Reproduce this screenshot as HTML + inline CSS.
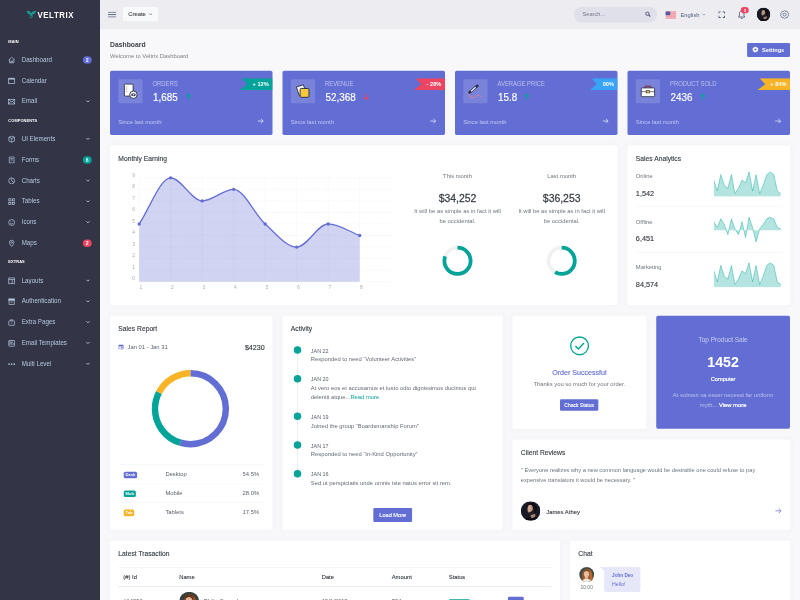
<!DOCTYPE html>
<html lang="en"><head><meta charset="utf-8"><title>Veltrix Dashboard</title>
<style>
*{box-sizing:border-box}
html,body{margin:0;padding:0;width:800px;height:600px;overflow:hidden;background:#f8f8fa}
#s{position:absolute;left:0;top:0;width:1920px;height:1440px;transform:scale(.4166667);transform-origin:0 0;font-family:"Liberation Sans",sans-serif;font-size:14px;color:#5b626b;background:#f8f8fa;overflow:hidden}
.abs{position:absolute}
.side{position:absolute;left:0;top:0;width:240px;height:1440px;background:#333547}
.logo{position:absolute;left:0;top:0;width:240px;height:70px}
.logo span{position:absolute;left:90px;top:20px;font-size:21.5px;font-weight:bold;color:#fff;letter-spacing:1.6px;line-height:30px;transform:scaleX(.875);transform-origin:0 50%}
.mt{position:absolute;left:20px;font-size:10.5px;font-weight:bold;color:#fff;letter-spacing:.2px;line-height:14px;transform:scaleX(.9);transform-origin:0 50%}
.mi{position:absolute;left:0;width:240px;height:50px;color:#b4c9de;font-size:15px;line-height:50px}
.mi .tx{position:absolute;left:52px;top:-2px;font-size:16.5px;transform:scaleX(.9);transform-origin:0 50%;white-space:nowrap}
.mi svg.ic{position:absolute;left:18.5px;top:15.5px;width:18px;height:18px;stroke:#b4c9de;fill:none;stroke-width:1.5}
.mi .ch{position:absolute;left:206px;top:19px;width:10px;height:10px}
.bdg{position:absolute;right:20px;top:16px;height:18px;min-width:21px;border-radius:9px;color:#fff;font-size:11px;font-weight:bold;line-height:18px;text-align:center}
.top{position:absolute;left:240px;top:0;width:1680px;height:70px;background:#ececf1}
.createbtn{left:55px;top:17px;width:84px;height:34px;background:#f8f9fa;border-radius:3px;font-size:14px;line-height:34px;text-align:center;color:#3b4046;-webkit-text-stroke:.2px #3b4046}
.search{left:1138px;top:16px;width:199px;height:38px;border-radius:19px;background:#e0e0ea;font-size:13.5px;line-height:38px;color:#74788d}
.search span{position:absolute;left:20px}
.card{position:absolute;background:#fff;border-radius:4px;box-shadow:0 0 13px 0 rgba(236,236,241,.44)}
.ct{position:absolute;left:20px;top:21px;font-size:17px;color:#343a40;line-height:22px;white-space:nowrap;transform:scaleX(.95);transform-origin:0 50%;-webkit-text-stroke:.3px #343a40}
.ct2{top:19.5px}
.ptitle{font-size:19px;font-weight:bold;color:#3f444b;line-height:24px;transform:scaleX(.86);transform-origin:0 50%}
.psub{font-size:14px;color:#7b8087;line-height:20px}
.setbtn{width:103px;height:34px;background:#626ed4;border-radius:3px;color:#fff;font-size:13.5px;font-weight:bold;line-height:34px;text-align:center;white-space:nowrap}
.st{background:#626ed4;color:#fff;box-shadow:none}
.sib{left:20px;top:20px;width:58px;height:58px;background:rgba(255,255,255,.15);border-radius:3px}
.slab{left:102px;top:21px;transform:scaleX(.88);transform-origin:0 50%;font-size:16px;line-height:20px;color:rgba(255,255,255,.55);white-space:nowrap}
.sval{left:103px;top:48px;transform:scaleX(.95);transform-origin:0 50%;font-size:25px;line-height:32px;color:#fff;white-space:nowrap;-webkit-text-stroke:.4px #fff}
.rtx{left:326px;top:18px;width:64px;height:28px;line-height:28px;font-size:13.5px;font-weight:bold;color:#fff;text-align:center}
.slm{left:20px;top:112px;font-size:14px;line-height:20px;color:rgba(255,255,255,.6);white-space:nowrap}
.gl{stroke:rgba(0,0,0,.12);stroke-width:1;stroke-dasharray:2 2;fill:none}
.al{font-size:12px;fill:rgba(0,0,0,.35);font-family:"Liberation Sans",sans-serif}
.mcol{top:0;width:250px;text-align:center}
.mh{position:absolute;left:0;width:250px;top:64px;font-size:14px;line-height:20px;color:#6c757d}
.mv{position:absolute;left:0;width:250px;top:110px;font-size:25px;line-height:32px;color:#3b4047;-webkit-text-stroke:.6px #3b4047}
.mp{position:absolute;left:0;width:250px;top:147px;font-size:14px;line-height:23px;color:#6c757d;white-space:nowrap}
.salab{left:20px;font-size:14px;line-height:20px;color:#6c757d;white-space:nowrap}
.saval{left:20px;font-size:17.5px;line-height:24px;color:#343a40;white-space:nowrap;-webkit-text-stroke:.3px #343a40}
.tbdg{height:16px;padding:0;border-radius:4px;color:#fff;font-size:10px;font-weight:bold;line-height:16px;text-align:center}
.adt{left:68px;font-size:13px;line-height:18px;color:#5b626b;white-space:nowrap}
.atx{left:68px;font-size:14px;line-height:20px;color:#636a72;white-space:nowrap}
.pbtn{background:#626ed4;border-radius:3px;color:#fff;text-align:center;white-space:nowrap;-webkit-text-stroke:.3px #fff}
.th{top:76px;font-size:14px;line-height:20px;color:#343a40;white-space:nowrap;-webkit-text-stroke:.25px #343a40}
.td{top:134px;font-size:14px;line-height:20px;color:#5b626b;white-space:nowrap}

</style></head><body>
<div id="s">
<div class="side">
<div class="logo"><svg class="abs" style="left:62.5px;top:25px;width:24px;height:19px" viewBox="0 0 24 19"><path d="M0 0.5 L7.5 1.8 L12 7 L16.5 1.8 L24 0.5 L19.5 8 L14.5 9.5 L12 7.5 L9.5 9.5 L4.5 8 Z" fill="#0fb5a6"/><path d="M12 7.2 Q17 10.5 15.2 15.5 Q14 19 12 19 Q10 19 8.8 15.5 Q7 10.5 12 7.2 Z" fill="#0aa396"/><ellipse cx="12" cy="14.3" rx="1.7" ry="2.4" fill="#333547"/><path d="M4 3 L9.5 8.5 M20 3 L14.5 8.5" stroke="#333547" stroke-width="1" fill="none"/></svg><span>VELTRIX</span></div>
<div class="mt" style="top:91px">MAIN</div>
<div class="mi" style="top:119px"><svg class="ic" viewBox="0 0 16 16"><path d="M1.5 8 L8 2 L14.5 8 M3.5 6.5 V14 H12.5 V6.5 M6.5 14 V10 H9.5 V14"/></svg><span class="tx">Dashboard</span><span class="bdg" style="background:#626ed4">2</span></div>
<div class="mi" style="top:169px"><svg class="ic" viewBox="0 0 16 16"><rect x="1.5" y="3.5" width="13" height="10.5"/><path d="M1.5 4.2 H14.5" stroke-width="2.4"/><path d="M4.5 1.2 V4 M8 1.2 V4 M11.5 1.2 V4"/></svg><span class="tx">Calendar</span></div>
<div class="mi" style="top:219px"><svg class="ic" viewBox="0 0 16 16"><rect x="1.5" y="3" width="13" height="10"/><path d="M1.5 3 L8 8.5 L14.5 3 M1.5 13 L6 7.5 M14.5 13 L10 7.5"/></svg><span class="tx">Email</span><svg class="ch" viewBox="0 0 8 8"><path d="M1 2.5 L4 5.5 L7 2.5" fill="none" stroke="#b4c9de" stroke-width="1.7"/></svg></div>
<div class="mt" style="top:281px">COMPONENTS</div>
<div class="mi" style="top:309px"><svg class="ic" viewBox="0 0 16 16"><path d="M8 1.5 L14 4 V12 L8 14.5 L2 12 V4 Z M2 4 L8 6.5 L14 4 M8 6.5 V14.5"/></svg><span class="tx">UI Elements</span><svg class="ch" viewBox="0 0 8 8"><path d="M1 2.5 L4 5.5 L7 2.5" fill="none" stroke="#b4c9de" stroke-width="1.7"/></svg></div>
<div class="mi" style="top:359px"><svg class="ic" viewBox="0 0 16 16"><path d="M3 1.5 H13 V14.5 L11.3 13.3 L9.7 14.5 L8 13.3 L6.3 14.5 L4.7 13.3 L3 14.5 Z M5.5 5 H10.5 M5.5 8 H10.5"/></svg><span class="tx">Forms</span><span class="bdg" style="background:#02a499">6</span></div>
<div class="mi" style="top:409px"><svg class="ic" viewBox="0 0 16 16"><circle cx="8" cy="8" r="6.3"/><path d="M8 1.7 V8 L13 11.5"/></svg><span class="tx">Charts</span><svg class="ch" viewBox="0 0 8 8"><path d="M1 2.5 L4 5.5 L7 2.5" fill="none" stroke="#b4c9de" stroke-width="1.7"/></svg></div>
<div class="mi" style="top:459px"><svg class="ic" viewBox="0 0 16 16"><rect x="1.8" y="1.8" width="4.6" height="4.6"/><rect x="9.6" y="1.8" width="4.6" height="4.6"/><rect x="1.8" y="9.6" width="4.6" height="4.6"/><rect x="9.6" y="9.6" width="4.6" height="4.6"/></svg><span class="tx">Tables</span><svg class="ch" viewBox="0 0 8 8"><path d="M1 2.5 L4 5.5 L7 2.5" fill="none" stroke="#b4c9de" stroke-width="1.7"/></svg></div>
<div class="mi" style="top:509px"><svg class="ic" viewBox="0 0 16 16"><circle cx="8" cy="8" r="6.3"/><path d="M4.8 9.5 Q8 13 11.2 9.5 M5.8 6 V7 M10.2 6 V7"/></svg><span class="tx">Icons</span><svg class="ch" viewBox="0 0 8 8"><path d="M1 2.5 L4 5.5 L7 2.5" fill="none" stroke="#b4c9de" stroke-width="1.7"/></svg></div>
<div class="mi" style="top:559px"><svg class="ic" viewBox="0 0 16 16"><path d="M8 14.8 C8 14.8 3.2 9.5 3.2 6 A4.8 4.8 0 0 1 12.8 6 C12.8 9.5 8 14.8 8 14.8 Z"/><circle cx="8" cy="6" r="1.7"/></svg><span class="tx">Maps</span><span class="bdg" style="background:#ec4561">2</span></div>
<div class="mt" style="top:620px">EXTRAS</div>
<div class="mi" style="top:649px"><svg class="ic" viewBox="0 0 16 16"><rect x="1.8" y="1.8" width="12.4" height="12.4"/><path d="M1.8 5.2 H14.2 M9.2 5.2 V14.2"/></svg><span class="tx">Layouts</span><svg class="ch" viewBox="0 0 8 8"><path d="M1 2.5 L4 5.5 L7 2.5" fill="none" stroke="#b4c9de" stroke-width="1.7"/></svg></div>
<div class="mi" style="top:699px"><svg class="ic" viewBox="0 0 16 16"><rect x="1.8" y="2" width="12.4" height="4"/><path d="M2.6 6 V14 H13.4 V6 M6 9 H10"/><rect x="2" y="2.2" width="12" height="2.4" fill="#b4c9de" stroke="none"/></svg><span class="tx">Authentication</span><svg class="ch" viewBox="0 0 8 8"><path d="M1 2.5 L4 5.5 L7 2.5" fill="none" stroke="#b4c9de" stroke-width="1.7"/></svg></div>
<div class="mi" style="top:749px"><svg class="ic" viewBox="0 0 16 16"><rect x="1.8" y="4.5" width="12.4" height="9.5" rx="1"/><path d="M5.5 4.5 V2.2 H10.5 V4.5 M8 8 V10.5"/></svg><span class="tx">Extra Pages</span><svg class="ch" viewBox="0 0 8 8"><path d="M1 2.5 L4 5.5 L7 2.5" fill="none" stroke="#b4c9de" stroke-width="1.7"/></svg></div>
<div class="mi" style="top:799px"><svg class="ic" viewBox="0 0 16 16"><rect x="1.8" y="1.8" width="12.4" height="12.4" rx="1"/><path d="M4.5 1.8 V7 H9 V1.8 M1.8 9.5 H14.2" /></svg><span class="tx">Email Templates</span><svg class="ch" viewBox="0 0 8 8"><path d="M1 2.5 L4 5.5 L7 2.5" fill="none" stroke="#b4c9de" stroke-width="1.7"/></svg></div>
<div class="mi" style="top:849px"><svg class="ic" viewBox="0 0 16 16"><circle cx="2.5" cy="8" r="1.75" fill="#b4c9de" stroke="none"/><circle cx="8" cy="8" r="1.75" fill="#b4c9de" stroke="none"/><circle cx="13.5" cy="8" r="1.75" fill="#b4c9de" stroke="none"/></svg><span class="tx">Multi Level</span><svg class="ch" viewBox="0 0 8 8"><path d="M1 2.5 L4 5.5 L7 2.5" fill="none" stroke="#b4c9de" stroke-width="1.7"/></svg></div>
</div>
<div class="top">
 <svg class="abs" style="left:19px;top:28px;width:20px;height:14px" viewBox="0 0 20 14"><path d="M0 1.2 H20 M0 7 H20 M0 12.8 H20" stroke="#525f80" stroke-width="2.2" fill="none"/></svg>
 <div class="abs createbtn">Create <svg width="9" height="6" viewBox="0 0 9 6" style="margin-left:3px;vertical-align:2px"><path d="M1 1.2 L4.5 4.8 L8 1.2" fill="none" stroke="#5b626b" stroke-width="1.9"/></svg></div>
 <div class="abs search"><span>Search...</span><svg class="abs" style="right:15px;top:11px;width:14px;height:14px" viewBox="0 0 14 14"><circle cx="5.8" cy="5.8" r="4" fill="none" stroke="#454f6b" stroke-width="2.2"/><path d="M9 9 L12.8 12.8" stroke="#454f6b" stroke-width="2.6"/></svg></div>
 <svg class="abs" style="left:1357px;top:27px;width:26px;height:18px" viewBox="0 0 27 18"><rect width="27" height="18" fill="#f6e4e6"/><g fill="#ec6f80"><rect width="27" height="2.6" y="0"/><rect width="27" height="2.6" y="5.1"/><rect width="27" height="2.6" y="10.3"/><rect width="27" height="2.6" y="15.4"/></g><rect width="12" height="9.5" fill="#52579d"/></svg>
 <div class="abs" style="left:1393px;top:25px;font-size:14px;line-height:20px;color:#525f80">English <svg width="8" height="6" viewBox="0 0 8 6" style="margin-left:2px;vertical-align:2px"><path d="M1 1.5 L4 4.5 L7 1.5" fill="none" stroke="#525f80" stroke-width="1.3"/></svg></div>
 <svg class="abs" style="left:1484px;top:27px;width:16px;height:16px" viewBox="0 0 16 16"><path d="M1.2 5.5 V1.2 H5.5 M10.5 1.2 H14.8 V5.5 M14.8 10.5 V14.8 H10.5 M5.5 14.8 H1.2 V10.5" fill="none" stroke="#525f80" stroke-width="2.4" stroke-linejoin="round"/></svg>
 <svg class="abs" style="left:1530px;top:24px;width:20px;height:22px" viewBox="0 0 20 22"><path d="M10 2.5 C6 2.5 4.5 5.5 4.5 9 V14 L2.5 17 H17.5 L15.5 14 V9 C15.5 5.5 14 2.5 10 2.5 Z" fill="none" stroke="#525f80" stroke-width="2.2"/><path d="M8 19 A2 2 0 0 0 12 19" fill="none" stroke="#525f80" stroke-width="2"/></svg>
 <div class="abs" style="left:1538px;top:17px;width:19px;height:15px;border-radius:8px;background:#ec4561;color:#fff;font-size:10px;font-weight:bold;text-align:center;line-height:15px">3</div>
 <svg class="abs" style="left:1576px;top:18px;width:33px;height:33px" viewBox="0 0 36 36"><defs><clipPath id="av0"><circle cx="18" cy="18" r="18"/></clipPath></defs><g clip-path="url(#av0)"><rect width="36" height="36" fill="#191a28"/><path d="M12 12 Q12 3 20 3 Q30 4 30 14 L28 23 L21 23 L21 9 Z" fill="#0e0e15"/><ellipse cx="17.5" cy="14.5" rx="5" ry="8" fill="#b8917e"/><path d="M14 19.5 Q17.5 22 21.5 16.5 L24.5 14.5 L25.5 21.5 Q22.5 27 17.5 25.5 Z" fill="#2a1f20"/><path d="M17.5 25.5 L27 23 L26.5 29.5 L20 33 Z" fill="#a27c6a"/><path d="M3 36 Q8 28 19 32 L26.5 29 Q33 30 35.5 36 Z" fill="#0b0b11"/></g></svg>
 <svg class="abs" style="left:1632px;top:24px;width:22px;height:22px" viewBox="0 0 22 22"><path d="M11 1.2 L13.6 3.4 L17 3 L18 6.2 L20.8 8.2 L19.4 11 L20.8 13.8 L18 15.8 L17 19 L13.6 18.6 L11 20.8 L8.4 18.6 L5 19 L4 15.8 L1.2 13.8 L2.6 11 L1.2 8.2 L4 6.2 L5 3 L8.4 3.4 Z" fill="none" stroke="#525f80" stroke-width="1.7" stroke-linejoin="round"/><circle cx="11" cy="11" r="3.6" fill="none" stroke="#525f80" stroke-width="1.7"/></svg>
</div>
<div class="abs ptitle" style="left:264px;top:94px">Dashboard</div>
<div class="abs psub" style="left:264px;top:123.5px">Welcome to Veltrix Dashboard</div>
<div class="abs setbtn" style="left:1793px;top:103px"><svg width="16" height="16" viewBox="0 0 16 16" style="vertical-align:-3px;margin-right:8px;margin-left:-2px"><path d="M8 0.5 L9.6 2.4 L12 1.6 L12.6 4 L15 4.8 L14 7 L15.5 9 L13.3 10.2 L13.5 12.7 L11 12.8 L9.8 15 L8 13.6 L5.6 15 L4.8 12.7 L2.3 12.6 L2.6 10.1 L0.5 8.8 L2 6.8 L1.1 4.5 L3.5 3.9 L4.2 1.5 L6.5 2.3 Z" fill="#fff"/><circle cx="8" cy="7.8" r="2.6" fill="#626ed4"/></svg>Settings</div>
<div class="card st" style="left:264px;top:170px;width:390px;height:154px">
 <div class="abs sib"><svg class="abs" style="left:12px;top:10px;width:36px;height:38px" viewBox="0 0 32 34"><rect x="2" y="1.5" width="19" height="26" rx="2.5" fill="#fff" stroke="#2a2f45" stroke-width="2"/><path d="M6 7 H8 M6 12 H8 M6 17 H8" stroke="#ec6a78" stroke-width="2"/><circle cx="21.5" cy="24.5" r="8" fill="#fff" stroke="#2a2f45" stroke-width="2"/><ellipse cx="21.5" cy="24.5" rx="5" ry="3.4" fill="#3a3f55"/><circle cx="21.5" cy="24.5" r="1.5" fill="#fff"/></svg></div>
 <div class="abs slab">ORDERS</div>
 <div class="abs sval">1,685</div><svg class="abs" style="left:181px;top:54px;width:15px;height:17px" viewBox="0 0 15 17"><path d="M7.5 16 V2 M1.5 8 L7.5 2 L13.5 8" fill="none" stroke="#02a499" stroke-width="2.5"/></svg>
 <svg class="abs" style="left:311px;top:18px;width:79px;height:28px" viewBox="0 0 79 28"><path d="M4.7 0 H79 V28 H0 L19.0 14 Z" fill="#02a499"/></svg>
 <div class="abs rtx" style="left:338px;width:47px">+ 12%</div>
 <div class="abs slm">Since last month</div>
 <svg class="abs" style="left:354px;top:114px;width:15px;height:13px" viewBox="0 0 15 13"><path d="M0.5 6.5 H13.5 M8 1 L13.5 6.5 L8 12" fill="none" stroke="rgba(255,255,255,.7)" stroke-width="2.2"/></svg>
</div>
<div class="card st" style="left:678px;top:170px;width:390px;height:154px">
 <div class="abs sib"><svg class="abs" style="left:10px;top:10px;width:38px;height:38px" viewBox="0 0 34 34"><path d="M3 8 L18 3 L24 21 L9 26 Z" fill="#fff" stroke="#2a2f45" stroke-width="2" stroke-linejoin="round"/><rect x="11" y="11" width="19" height="19" rx="2" fill="#f5c93a" stroke="#2a2f45" stroke-width="2"/></svg></div>
 <div class="abs slab">REVENUE</div>
 <div class="abs sval">52,368</div><svg class="abs" style="left:193px;top:54px;width:15px;height:17px" viewBox="0 0 15 17"><path d="M7.5 1 V15 M1.5 9 L7.5 15 L13.5 9" fill="none" stroke="#ec4561" stroke-width="2.5"/></svg>
 <svg class="abs" style="left:315px;top:18px;width:75px;height:28px" viewBox="0 0 75 28"><path d="M4.5 0 H75 V28 H0 L18.0 14 Z" fill="#ec4561"/></svg>
 <div class="abs rtx" style="left:342px;width:43px">- 28%</div>
 <div class="abs slm">Since last month</div>
 <svg class="abs" style="left:354px;top:114px;width:15px;height:13px" viewBox="0 0 15 13"><path d="M0.5 6.5 H13.5 M8 1 L13.5 6.5 L8 12" fill="none" stroke="rgba(255,255,255,.7)" stroke-width="2.2"/></svg>
</div>
<div class="card st" style="left:1092px;top:170px;width:390px;height:154px">
 <div class="abs sib"><svg class="abs" style="left:0;top:0;width:58px;height:58px" viewBox="0 0 58 58"><path d="M13 35.5 Q13 44 21.5 44.5 Q28 44.5 31 40 Q35 36.5 39 39 Q42 41 44 43.5" fill="none" stroke="#e27f93" stroke-width="2.2" stroke-linecap="round"/><path d="M14.8 32 L33.8 15.8" stroke="#2a2f45" stroke-width="6" stroke-linecap="round"/><path d="M18.5 28.8 L29.5 19.4" stroke="#f4f4f6" stroke-width="3.2" stroke-linecap="butt"/></svg></div>
 <div class="abs slab">AVERAGE PRICE</div>
 <div class="abs sval">15.8</div><svg class="abs" style="left:165px;top:54px;width:15px;height:17px" viewBox="0 0 15 17"><path d="M7.5 16 V2 M1.5 8 L7.5 2 L13.5 8" fill="none" stroke="#02a499" stroke-width="2.5"/></svg>
 <svg class="abs" style="left:324px;top:18px;width:66px;height:28px" viewBox="0 0 66 28"><path d="M4.0 0 H66 V28 H0 L15.8 14 Z" fill="#38a4f8"/></svg>
 <div class="abs rtx" style="left:351px;width:34px">00%</div>
 <div class="abs slm">Since last month</div>
 <svg class="abs" style="left:354px;top:114px;width:15px;height:13px" viewBox="0 0 15 13"><path d="M0.5 6.5 H13.5 M8 1 L13.5 6.5 L8 12" fill="none" stroke="rgba(255,255,255,.7)" stroke-width="2.2"/></svg>
</div>
<div class="card st" style="left:1506px;top:170px;width:390px;height:154px">
 <div class="abs sib"><svg class="abs" style="left:10px;top:13px;width:38px;height:32px" viewBox="0 0 38 32"><path d="M13 8 V3.5 H25 V8" fill="none" stroke="#8f3b40" stroke-width="3.2"/><rect x="3" y="8" width="32" height="21" rx="2" fill="#fff" stroke="#2a2f45" stroke-width="2"/><path d="M3 17 H35" stroke="#2a2f45" stroke-width="1.6"/><rect x="15" y="14" width="8" height="6" fill="#f5c93a" stroke="#2a2f45" stroke-width="1.5"/></svg></div>
 <div class="abs slab">PRODUCT SOLD</div>
 <div class="abs sval">2436</div><svg class="abs" style="left:173px;top:54px;width:15px;height:17px" viewBox="0 0 15 17"><path d="M7.5 16 V2 M1.5 8 L7.5 2 L13.5 8" fill="none" stroke="#02a499" stroke-width="2.5"/></svg>
 <svg class="abs" style="left:312px;top:18px;width:78px;height:28px" viewBox="0 0 78 28"><path d="M4.7 0 H78 V28 H0 L18.7 14 Z" fill="#f8b425"/></svg>
 <div class="abs rtx" style="left:339px;width:46px">+ 84%</div>
 <div class="abs slm">Since last month</div>
 <svg class="abs" style="left:354px;top:114px;width:15px;height:13px" viewBox="0 0 15 13"><path d="M0.5 6.5 H13.5 M8 1 L13.5 6.5 L8 12" fill="none" stroke="rgba(255,255,255,.7)" stroke-width="2.2"/></svg>
</div>
<div class="card" style="left:264px;top:349px;width:1218px;height:383px">
 <div class="ct">Monthly Earning</div>
 <svg class="abs" style="left:0;top:0;width:720px;height:383px" viewBox="0 0 720 383"><path d="M70 327.0 H674.8" class="gl"/><text x="60" y="324.0" text-anchor="end" class="al">0</text><path d="M70 299.3 H674.8" class="gl"/><text x="60" y="296.3" text-anchor="end" class="al">1</text><path d="M70 271.6 H674.8" class="gl"/><text x="60" y="268.6" text-anchor="end" class="al">2</text><path d="M70 243.9 H674.8" class="gl"/><text x="60" y="240.9" text-anchor="end" class="al">3</text><path d="M70 216.2 H674.8" class="gl"/><text x="60" y="213.2" text-anchor="end" class="al">4</text><path d="M70 188.5 H674.8" class="gl"/><text x="60" y="185.5" text-anchor="end" class="al">5</text><path d="M70 160.8 H674.8" class="gl"/><text x="60" y="157.8" text-anchor="end" class="al">6</text><path d="M70 133.1 H674.8" class="gl"/><text x="60" y="130.1" text-anchor="end" class="al">7</text><path d="M70 105.4 H674.8" class="gl"/><text x="60" y="102.4" text-anchor="end" class="al">8</text><path d="M70 77.7 H674.8" class="gl"/><text x="60" y="74.7" text-anchor="end" class="al">9</text><path d="M70.0 77.7 V327" class="gl"/><text x="71.0" y="344" class="al">1</text><path d="M145.6 77.7 V327" class="gl"/><text x="146.6" y="344" class="al">2</text><path d="M221.2 77.7 V327" class="gl"/><text x="222.2" y="344" class="al">3</text><path d="M296.8 77.7 V327" class="gl"/><text x="297.8" y="344" class="al">4</text><path d="M372.4 77.7 V327" class="gl"/><text x="373.4" y="344" class="al">5</text><path d="M448.0 77.7 V327" class="gl"/><text x="449.0" y="344" class="al">6</text><path d="M523.6 77.7 V327" class="gl"/><text x="524.6" y="344" class="al">7</text><path d="M599.2 77.7 V327" class="gl"/><text x="600.2" y="344" class="al">8</text><path d="M70.0 188.5 C95.2 151.6 120.4 77.7 145.6 77.7 C170.8 77.7 196.0 133.1 221.2 133.1 C246.4 133.1 271.6 105.4 296.8 105.4 C322.0 105.4 347.2 166.3 372.4 188.5 C397.6 210.7 422.8 243.9 448.0 243.9 C473.2 243.9 498.4 188.5 523.6 188.5 C548.8 188.5 574.0 207.0 599.2 216.2 L599.2 327 L70.0 327 Z" fill="#626ed4" fill-opacity=".3"/><path d="M70.0 188.5 C95.2 151.6 120.4 77.7 145.6 77.7 C170.8 77.7 196.0 133.1 221.2 133.1 C246.4 133.1 271.6 105.4 296.8 105.4 C322.0 105.4 347.2 166.3 372.4 188.5 C397.6 210.7 422.8 243.9 448.0 243.9 C473.2 243.9 498.4 188.5 523.6 188.5 C548.8 188.5 574.0 207.0 599.2 216.2" fill="none" stroke="#626ed4" stroke-width="3"/><circle cx="70.0" cy="188.5" r="4" fill="#626ed4"/><circle cx="145.6" cy="77.7" r="4" fill="#626ed4"/><circle cx="221.2" cy="133.1" r="4" fill="#626ed4"/><circle cx="296.8" cy="105.4" r="4" fill="#626ed4"/><circle cx="372.4" cy="188.5" r="4" fill="#626ed4"/><circle cx="448.0" cy="243.9" r="4" fill="#626ed4"/><circle cx="523.6" cy="188.5" r="4" fill="#626ed4"/><circle cx="599.2" cy="216.2" r="4" fill="#626ed4"/></svg>
 <div class="abs mcol" style="left:709px"><div class="mh">This month</div><div class="mv">$34,252</div><div class="mp">It will be as simple as in fact it will<br>be occidental.</div></div>
 <div class="abs mcol" style="left:959px"><div class="mh">Last month</div><div class="mv">$36,253</div><div class="mp">It will be as simple as in fact it will<br>be occidental.</div></div>
 <svg class="abs" style="left:794px;top:237px;width:80px;height:80px" viewBox="0 0 80 80"><circle cx="40" cy="40" r="31.5" fill="none" stroke="#f1f1f1" stroke-width="9"/><circle cx="40" cy="40" r="31.5" fill="none" stroke="#02a499" stroke-width="9" stroke-dasharray="158.3 197.9" transform="rotate(-90 40 40)"/></svg><svg class="abs" style="left:1044px;top:237px;width:80px;height:80px" viewBox="0 0 80 80"><circle cx="40" cy="40" r="31.5" fill="none" stroke="#f1f1f1" stroke-width="9"/><circle cx="40" cy="40" r="31.5" fill="none" stroke="#02a499" stroke-width="9" stroke-dasharray="114.8 197.9" transform="rotate(-90 40 40)"/></svg>
</div>
<div class="card" style="left:1506px;top:349px;width:390px;height:383px">
<div class="ct">Sales Analytics</div>
<div class="abs salab" style="top:64px">Online</div><div class="abs saval" style="top:103px">1,542</div>
<svg class="abs" style="left:207px;top:63px;width:161px;height:60px" viewBox="0 0 161 60"><polygon points="0,59.5 0.0,20.2 8.5,46.4 16.9,7.1 25.4,33.3 33.9,39.8 42.4,7.1 50.8,52.9 59.3,39.8 67.8,20.2 76.3,26.7 84.7,0.5 93.2,46.4 101.7,7.1 110.2,52.9 118.6,33.3 127.1,7.1 135.6,0.5 144.1,7.1 152.5,46.4 161.0,52.9 161,59.5" fill="rgba(2,164,153,.3)"/><polyline points="0.0,20.2 8.5,46.4 16.9,7.1 25.4,33.3 33.9,39.8 42.4,7.1 50.8,52.9 59.3,39.8 67.8,20.2 76.3,26.7 84.7,0.5 93.2,46.4 101.7,7.1 110.2,52.9 118.6,33.3 127.1,7.1 135.6,0.5 144.1,7.1 152.5,46.4 161.0,52.9" fill="none" stroke="#02a499" stroke-width="1" stroke-linecap="square"/></svg>
<div class="abs" style="left:20px;top:147px;width:350px;height:1px;background:#eaedf1"></div>
<div class="abs salab" style="top:173px">Offline</div><div class="abs saval" style="top:212px">6,451</div>
<svg class="abs" style="left:207px;top:172px;width:161px;height:60px" viewBox="0 0 161 60"><polygon points="0,31.7 0.0,10.9 8.5,24.8 16.9,4.0 25.4,17.9 33.9,42.1 42.4,4.0 50.8,28.3 59.3,42.1 67.8,10.9 76.3,49.1 84.7,0.5 93.2,24.8 101.7,59.5 110.2,28.3 118.6,17.9 127.1,4.0 135.6,0.5 144.1,4.0 152.5,24.8 161.0,28.3 161,31.7" fill="rgba(2,164,153,.3)"/><polyline points="0.0,10.9 8.5,24.8 16.9,4.0 25.4,17.9 33.9,42.1 42.4,4.0 50.8,28.3 59.3,42.1 67.8,10.9 76.3,49.1 84.7,0.5 93.2,24.8 101.7,59.5 110.2,28.3 118.6,17.9 127.1,4.0 135.6,0.5 144.1,4.0 152.5,24.8 161.0,28.3" fill="none" stroke="#02a499" stroke-width="1" stroke-linecap="square"/></svg>
<div class="abs" style="left:20px;top:256px;width:350px;height:1px;background:#eaedf1"></div>
<div class="abs salab" style="top:282px">Marketing</div><div class="abs saval" style="top:321px">84,574</div>
<svg class="abs" style="left:207px;top:281px;width:161px;height:60px" viewBox="0 0 161 60"><polygon points="0,59.5 0.0,20.2 8.5,46.4 16.9,7.1 25.4,33.3 33.9,39.8 42.4,7.1 50.8,52.9 59.3,39.8 67.8,20.2 76.3,26.7 84.7,0.5 93.2,46.4 101.7,7.1 110.2,52.9 118.6,33.3 127.1,7.1 135.6,0.5 144.1,7.1 152.5,46.4 161.0,52.9 161,59.5" fill="rgba(2,164,153,.3)"/><polyline points="0.0,20.2 8.5,46.4 16.9,7.1 25.4,33.3 33.9,39.8 42.4,7.1 50.8,52.9 59.3,39.8 67.8,20.2 76.3,26.7 84.7,0.5 93.2,46.4 101.7,7.1 110.2,52.9 118.6,33.3 127.1,7.1 135.6,0.5 144.1,7.1 152.5,46.4 161.0,52.9" fill="none" stroke="#02a499" stroke-width="1" stroke-linecap="square"/></svg>
</div>
<div class="card" style="left:264px;top:758px;width:390px;height:513px">
 <div class="ct ct2">Sales Report</div>
 <svg class="abs" style="left:20px;top:68px;width:13px;height:13px" viewBox="0 0 13 13"><rect x="1" y="2" width="11" height="10" rx="1" fill="none" stroke="#626ed4" stroke-width="1.8"/><rect x="1" y="2" width="11" height="3.5" fill="#626ed4"/><rect x="6.5" y="7" width="3.5" height="3" fill="#626ed4"/></svg>
 <div class="abs" style="left:42px;top:64px;font-size:14px;line-height:20px;color:#5b626b;white-space:nowrap">Jan 01 - Jan 31</div>
 <div class="abs" style="right:19px;top:64.5px;font-size:17px;line-height:22px;color:#343a40;-webkit-text-stroke:.35px #343a40;white-space:nowrap">$4230</div>
 <svg class="abs" style="left:0;top:100px;width:390px;height:250px" viewBox="0 0 390 250"><circle cx="193" cy="123" r="85" fill="none" stroke="#626ed4" stroke-width="15.5" stroke-dasharray="291.07 534.07" stroke-dashoffset="-0.00" transform="rotate(-90 193 123)"/><circle cx="193" cy="123" r="85" fill="none" stroke="#02a499" stroke-width="15.5" stroke-dasharray="149.54 534.07" stroke-dashoffset="-291.07" transform="rotate(-90 193 123)"/><circle cx="193" cy="123" r="85" fill="none" stroke="#f8b425" stroke-width="15.5" stroke-dasharray="93.46 534.07" stroke-dashoffset="-440.61" transform="rotate(-90 193 123)"/></svg>
<div class="abs" style="left:20px;top:357.0px;width:350px;height:1px;background:#eaedf1"></div><div class="abs tbdg" style="left:33px;top:373.5px;width:32px;background:#626ed4">Desk</div><div class="abs" style="left:133px;top:370.0px;font-size:14px;line-height:20px;white-space:nowrap">Desktop</div><div class="abs" style="right:32px;top:370.0px;font-size:14px;line-height:20px;white-space:nowrap">54.5%</div><div class="abs" style="left:20px;top:402.5px;width:350px;height:1px;background:#eaedf1"></div><div class="abs tbdg" style="left:33px;top:419.0px;width:29px;background:#02a499">Mob</div><div class="abs" style="left:133px;top:415.5px;font-size:14px;line-height:20px;white-space:nowrap">Mobile</div><div class="abs" style="right:32px;top:415.5px;font-size:14px;line-height:20px;white-space:nowrap">28.0%</div><div class="abs" style="left:20px;top:448.0px;width:350px;height:1px;background:#eaedf1"></div><div class="abs tbdg" style="left:33px;top:464.5px;width:25px;background:#f8b425">Tab</div><div class="abs" style="left:133px;top:461.0px;font-size:14px;line-height:20px;white-space:nowrap">Tablets</div><div class="abs" style="right:32px;top:461.0px;font-size:14px;line-height:20px;white-space:nowrap">17.5%</div></div>
<div class="card" style="left:678px;top:758px;width:528px;height:513px">
<div class="ct ct2">Activity</div>
<div class="abs" style="left:35px;top:82px;width:2px;height:297px;background:#e9ebf5"></div>
<div class="abs" style="left:27px;top:73px;width:18px;height:18px;border-radius:9px;background:#02a499"></div>
<div class="abs adt" style="top:74.5px">JAN 22</div>
<div class="abs atx" style="top:94.0px">Responded to need “Volunteer Activities”</div>
<div class="abs" style="left:27px;top:142px;width:18px;height:18px;border-radius:9px;background:#02a499"></div>
<div class="abs adt" style="top:143.5px">JAN 20</div>
<div class="abs atx" style="top:163.0px">At vero eos et accusamus et iusto odio dignissimos ducimus qui</div>
<div class="abs atx" style="top:184.5px">deleniti atque...<span style="color:#02a499">Read more</span></div>
<div class="abs" style="left:27px;top:232px;width:18px;height:18px;border-radius:9px;background:#02a499"></div>
<div class="abs adt" style="top:233.5px">JAN 19</div>
<div class="abs atx" style="top:253.0px">Joined the group “Boardsmanship Forum”</div>
<div class="abs" style="left:27px;top:301px;width:18px;height:18px;border-radius:9px;background:#02a499"></div>
<div class="abs adt" style="top:302.5px">JAN 17</div>
<div class="abs atx" style="top:322.0px">Responded to need “In-Kind Opportunity”</div>
<div class="abs" style="left:27px;top:370px;width:18px;height:18px;border-radius:9px;background:#02a499"></div>
<div class="abs adt" style="top:371.5px">JAN 16</div>
<div class="abs atx" style="top:391.0px">Sed ut perspiciatis unde omnis iste natus error sit rem.</div>
<div class="abs pbtn" style="left:218px;top:461px;width:93px;height:34px;line-height:34px;font-size:13.5px">Load More</div>
</div>
<div class="card" style="left:1230px;top:758px;width:321px;height:271px">
 <svg class="abs" style="left:137px;top:48px;width:48px;height:48px" viewBox="0 0 48 48"><circle cx="24" cy="24" r="21.3" fill="none" stroke="#02a499" stroke-width="3.2"/><path d="M14 24.5 L21 31.5 L34.5 17" fill="none" stroke="#02a499" stroke-width="3.6"/></svg>
 <div class="abs" style="left:0;width:321px;top:124px;text-align:center;font-size:17px;line-height:24px;color:#626ed4;white-space:nowrap;-webkit-text-stroke:.3px #626ed4">Order Successful</div>
 <div class="abs" style="left:0;width:321px;top:154px;text-align:center;font-size:14px;line-height:20px;color:#6c757d;white-space:nowrap">Thanks you so much for your order.</div>
 <div class="abs pbtn" style="left:114px;top:200px;width:92px;height:28px;line-height:28px;font-size:12px">Chack Status</div>
</div>
<div class="card" style="left:1575px;top:758px;width:321px;height:271px;background:#626ed4;box-shadow:none;color:#fff;text-align:center">
 <div class="abs" style="left:0;width:321px;top:46px;font-size:15.5px;line-height:22px;color:rgba(255,255,255,.65);white-space:nowrap">Top Product Sale</div>
 <div class="abs" style="left:0;width:321px;top:88px;font-size:34px;line-height:44px;font-weight:bold;white-space:nowrap">1452</div>
 <div class="abs" style="left:0;width:321px;top:142px;font-size:13.5px;line-height:20px;-webkit-text-stroke:.5px #fff;white-space:nowrap">Computer</div>
 <div class="abs" style="left:0;width:321px;top:179px;font-size:14px;line-height:23px;color:rgba(255,255,255,.55);white-space:nowrap">At solmen va esser necessi far uniform<br>myth... <span style="color:#fff;-webkit-text-stroke:.5px #fff">View more</span></div>
</div>
<div class="card" style="left:1230px;top:1055px;width:666px;height:216px">
 <div class="ct ct2">Client Reviews</div>
 <div class="abs" style="left:20px;top:61.3px;font-size:13.6px;line-height:23.4px;color:#6c757d;white-space:nowrap">" Everyone realizes why a new common language would be desirable one could refuse to pay<br>expensive translators it would be necessary. "</div>
 <svg class="abs" style="left:20px;top:148px;width:47px;height:47px" viewBox="0 0 50 50"><defs><clipPath id="av1"><circle cx="25" cy="25" r="25"/></clipPath></defs><g clip-path="url(#av1)"><rect width="50" height="50" fill="#191a28"/><path d="M16.5 16 Q17 4 28 4 Q41 5 41 19 L38 31 L29 31 L29 12 Z" fill="#0e0e15"/><ellipse cx="23.8" cy="20" rx="6.8" ry="11.2" fill="#c39a86"/><ellipse cx="21.5" cy="19" rx="3.2" ry="6" fill="#d3ab98"/><path d="M19.5 27 Q24 30 29.5 23 L33.5 20 L35 30 Q31 37.5 24 35.5 Z" fill="#2a1f20"/><path d="M24.5 35.5 L37 32 L36.5 41 L28 45.5 Z" fill="#a9826f"/><path d="M4 50 Q11 39 26 44 L36.5 40 Q46 42 49 50 Z" fill="#0b0b11"/></g></svg>
 <div class="abs" style="left:81px;top:162.5px;font-size:15px;line-height:20px;color:#343a40;white-space:nowrap;transform:scaleX(.94);transform-origin:0 50%;-webkit-text-stroke:.25px #343a40">James Athey</div>
 <svg class="abs" style="left:630px;top:164px;width:16px;height:14px" viewBox="0 0 16 14"><path d="M1 7 H14.5 M9 1.5 L14.5 7 L9 12.5" fill="none" stroke="#626ed4" stroke-width="1.7"/></svg>
</div>
<div class="card" style="left:264px;top:1298px;width:1080px;height:200px">
 <div class="ct ct2">Latest Trasaction</div>
 <div class="abs" style="left:20px;top:63px;width:1040px;height:1px;background:#e6e8ec"></div>
 <div class="abs" style="left:20px;top:109px;width:1040px;height:2px;background:#e6e8ec"></div>
 <div class="abs th" style="left:32px">(#) Id</div><div class="abs th" style="left:166px">Name</div><div class="abs th" style="left:508px">Date</div><div class="abs th" style="left:676px">Amount</div><div class="abs th" style="left:813px">Status</div>
 <svg class="abs" style="left:166px;top:121.5px;width:48px;height:48px" viewBox="0 0 36 36"><defs><clipPath id="av2"><circle cx="18" cy="18" r="18"/></clipPath></defs><g clip-path="url(#av2)"><rect width="36" height="36" fill="#34403d"/><path d="M7 36 Q3 8 17 4 Q33 3 32 22 Q33 30 36 36 Z" fill="#6e3d22"/><path d="M24 8 Q33 12 31 26 L36 36 L26 36 Z" fill="#8a4e28"/><ellipse cx="17.5" cy="16" rx="6.3" ry="8.6" fill="#e3b59c"/><path d="M10.5 15 Q11 5.5 18 6.5 Q25 6 24.5 15 Q22 9 17.5 9.5 Q13 9.5 10.5 15 Z" fill="#5d3119"/></g></svg>
 <div class="abs td" style="left:32px">#14256</div><div class="abs td" style="left:225px">Philip Smead</div><div class="abs td" style="left:508px">15/1/2018</div><div class="abs td" style="left:676px">$94</div>
 <div class="abs" style="left:813px;top:140px;width:51px;height:24px;border-radius:3px;background:#02a499;color:#fff;font-size:10.5px;font-weight:bold;line-height:24px;text-align:center">Delivered</div>
 <div class="abs" style="left:955px;top:133.5px;width:38px;height:30px;border-radius:3px;background:#626ed4;color:#fff;font-size:12px;line-height:30px;text-align:center">Edit</div>
</div>
<div class="card" style="left:1368px;top:1298px;width:528px;height:200px">
 <div class="ct ct2">Chat</div>
 <svg class="abs" style="left:22px;top:63px;width:36px;height:36px" viewBox="0 0 36 36"><defs><clipPath id="av3"><circle cx="18" cy="18" r="18"/></clipPath></defs><g clip-path="url(#av3)"><rect width="36" height="36" fill="#3f4b47"/><path d="M7 36 Q3 8 17 4 Q33 3 32 22 Q33 30 36 36 Z" fill="#96572b"/><path d="M24 8 Q33 12 31 26 L36 36 L26 36 Z" fill="#b06a32"/><ellipse cx="17.5" cy="16" rx="6.3" ry="8.6" fill="#e8bda2"/><path d="M10.5 15 Q11 5.5 18 6.5 Q25 6 24.5 15 Q22 9 17.5 9.5 Q13 9.5 10.5 15 Z" fill="#7d4520"/><path d="M14 23 L21 23 L22 30 L13 30 Z" fill="#e0b197"/><path d="M6 36 Q8 28 17.5 29 Q27 28 29 36 Z" fill="#f1ece8"/></g></svg>
 <div class="abs" style="left:10px;width:60px;top:103px;text-align:center;font-size:12px;line-height:16px;color:#6c757d">10:00</div>
 <svg class="abs" style="left:72px;top:63px;width:14px;height:14px" viewBox="0 0 14 14"><path d="M0 0 H14 V14 Z" fill="#e6e8f9"/></svg>
 <div class="abs" style="left:82px;top:63px;width:87px;height:60px;border-radius:5px;background:#e6e8f9"></div>
 <div class="abs" style="left:101px;top:74px;font-size:12.5px;line-height:18px;font-weight:bold;color:#626ed4;white-space:nowrap;transform:scaleX(.89);transform-origin:0 50%">John Deo</div>
 <div class="abs" style="left:101px;top:95.5px;font-size:12.5px;line-height:18px;color:#626ed4;white-space:nowrap">Hello!</div>
</div>
</div>
</body></html>
